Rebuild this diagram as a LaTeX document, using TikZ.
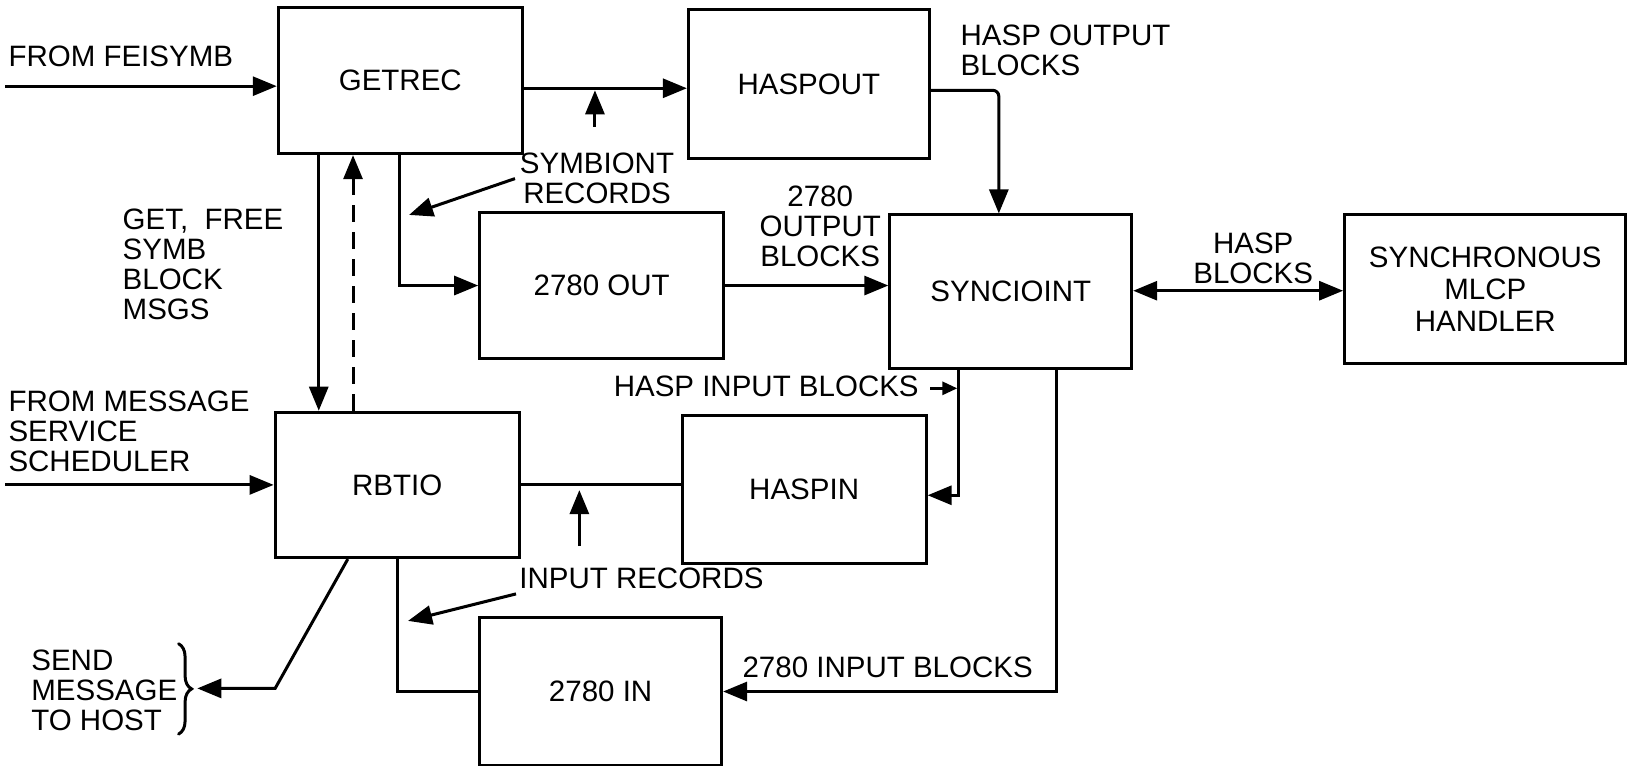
\documentclass[tikz,border=0pt]{standalone}
\usepackage{fontspec}
\setmainfont{Liberation Sans}
\usetikzlibrary{arrows.meta,calc,decorations.pathreplacing}
\newcommand\myk{1.0383}
\begin{document}
\begin{tikzpicture}[x=1.0383pt,y=-1.0383pt,
  box/.style={draw,line width=3pt,inner sep=0pt,align=center,font=\fontsize{29.5}{32}\selectfont},
  lbl/.style={inner sep=0pt,font=\fontsize{29.5}{30}\selectfont},
  ln/.style={line width=3pt},
  arr/.style={ln,-{Triangle[length=24pt,width=19pt]}},
  darr/.style={ln,{Triangle[length=24pt,width=19pt]}-{Triangle[length=24pt,width=19pt]}},
  sarr/.style={ln,-{Triangle[length=15pt,width=13pt]}}]
\useasboundingbox (0,0) rectangle (1567,737);
% boxes
\node[box,minimum width=\myk*235pt,minimum height=\myk*141pt] (getrec) at (385.5,77.5) {GETREC};
\node[box,minimum width=\myk*232pt,minimum height=\myk*144pt] (haspout) at (779,81) {HASPOUT};
\node[box,minimum width=\myk*235pt,minimum height=\myk*140pt] (out) at (579.5,275) {2780 OUT};
\node[box,minimum width=\myk*233pt,minimum height=\myk*148pt] (sync) at (973.5,281) {SYNCIOINT};
\node[box,minimum width=\myk*271pt,minimum height=\myk*143pt] (mlcp) at (1430.5,278.5) {SYNCHRONOUS\\MLCP\\HANDLER};
\node[box,minimum width=\myk*235pt,minimum height=\myk*140pt] (rbtio) at (382.5,467) {RBTIO};
\node[box,minimum width=\myk*235pt,minimum height=\myk*143pt] (haspin) at (774.5,471.5) {HASPIN};
\node[box,minimum width=\myk*233pt,minimum height=\myk*142pt] (in) at (578.5,666) {2780 IN};
% labels
\node[lbl,anchor=north west,align=left] (lfs) at (8,44) {FROM FEISYMB};
\node[lbl,anchor=north west,align=left] (lms) at (8,376) {FROM MESSAGE\\SERVICE\\SCHEDULER};
\node[lbl,anchor=north west,align=left] (lget) at (118,201) {GET,\ \ FREE\\SYMB\\BLOCK\\MSGS};
\node[lbl,anchor=north,align=center] (lsym) at (575,147) {SYMBIONT\\RECORDS};
\node[lbl,anchor=north,align=center] (l2780o) at (790,179) {2780\\OUTPUT\\BLOCKS};
\node[lbl,anchor=north west,align=left] (lho) at (925,24) {HASP OUTPUT\\BLOCKS};
\node[lbl,anchor=north,align=center] (lhb) at (1207,224) {HASP\\BLOCKS};
\node[lbl,anchor=north east,align=right] (lhi) at (885,362) {HASP INPUT BLOCKS};
\node[lbl,anchor=north west,align=left] (lir) at (500,547) {INPUT RECORDS};
\node[lbl,anchor=north west,align=left] (l2780i) at (715,632) {2780 INPUT BLOCKS};
\node[lbl,anchor=north west,align=left] (lsend) at (30,626) {SEND\\MESSAGE\\TO HOST};
% coordinates
\coordinate (fsin) at (5,83);
\coordinate (msin) at (5,467);
\coordinate (g2h) at (0,85);
\coordinate (sr1) at (573,122);
\coordinate (sr2) at (573,87);
\coordinate (gx) at (385,0);
\coordinate (sa1) at (496,172);
\coordinate (sa2) at (394,207);
\coordinate (c307) at (307,0);
\coordinate (c340) at (340,0);
\coordinate (h87) at (0,87);
\coordinate (c962) at (962,0);
\coordinate (c280) at (0,280);
\coordinate (c923) at (923,0);
\coordinate (c477) at (0,477);
\coordinate (hi1) at (896,374);
\coordinate (hi2) at (922,374);
\coordinate (c1018) at (1018,0);
\coordinate (ir1) at (558,526);
\coordinate (ir2) at (558,472);
\coordinate (ia1) at (497,572);
\coordinate (ia2) at (393,598);
\coordinate (c383) at (383,0);
\coordinate (c335) at (335,0);
\coordinate (sbend) at (265,663);
\coordinate (send) at (190,663);
\coordinate (br1) at (172,620);
\coordinate (br2) at (172,707);
% connectors
\draw[arr] (fsin) -- (fsin -| getrec.west);
\draw[arr] (msin) -- (msin -| rbtio.west);
\draw[arr] (getrec.east |- g2h) -- (haspout.west |- g2h);
\draw[arr] (sr1) -- (sr2);
\draw[arr] (getrec.south -| gx) |- (out.west);
\draw[arr] (sa1) -- (sa2);
\draw[arr] (getrec.south -| c307) -- (rbtio.north -| c307);
\draw[arr,dash pattern=on 17pt off 10pt] (rbtio.north -| c340) -- (getrec.south -| c340);
\draw[arr,rounded corners=6pt] (haspout.east |- h87) -| (sync.north -| c962);
\draw[arr] (out.east) -- (out.east -| sync.west);
\draw[darr] (sync.east |- c280) -- (mlcp.west |- c280);
\draw[arr] (sync.south -| c923) |- (haspin.east |- c477);
\draw[sarr] (hi1) -- (hi2);
\draw[arr] (sync.south -| c1018) |- (in.east);
\draw[ln] (rbtio.east) -- (rbtio.east -| haspin.west);
\draw[arr] (ir1) -- (ir2);
\draw[arr] (ia1) -- (ia2);
\draw[ln] (rbtio.south -| c383) |- (in.west);
\draw[arr] (rbtio.south -| c335) -- (sbend) -- (send);
\draw[ln,line width=3pt,line cap=round,decorate,decoration={brace,amplitude=13pt}] (br1) -- (br2);
\end{tikzpicture}
\end{document}
